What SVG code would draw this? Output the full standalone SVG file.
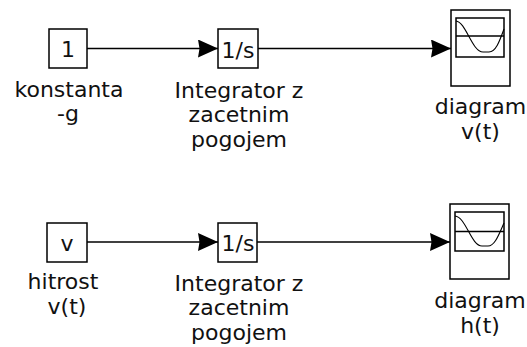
<svg xmlns="http://www.w3.org/2000/svg" width="527" height="347" viewBox="0 0 527 347">
<style>
.blk{fill:#fff;stroke:#000;stroke-width:1.5}
.ln{fill:none;stroke:#000;stroke-width:1.5}
.crv{fill:none;stroke:#000;stroke-width:1.1}
.t{font-family:"DejaVu Sans",sans-serif;font-size:22px;fill:#111;text-anchor:middle}
</style>
<defs>
<marker id="ah" markerWidth="20" markerHeight="18" refX="20" refY="9" orient="auto" markerUnits="userSpaceOnUse">
<path d="M0,0 L20,9 L0,18 L1.5,9 Z" fill="#000"/>
</marker>
</defs>
<rect width="527" height="347" fill="#fff"/>
<g id="connectors">
<line class="ln" x1="87" y1="48.5" x2="218" y2="48.5" marker-end="url(#ah)"/>
<line class="ln" x1="258" y1="48.5" x2="451" y2="48.5" marker-end="url(#ah)"/>
<line class="ln" x1="87" y1="242" x2="218" y2="242" marker-end="url(#ah)"/>
<line class="ln" x1="257" y1="242" x2="450" y2="242" marker-end="url(#ah)"/>
</g>
<g id="konstanta">
<rect class="blk" x="49" y="29" width="38" height="39"/>
<text class="t" x="68" y="57">1</text>
<text class="t" x="69" y="96.5">konstanta</text>
<text class="t" x="68" y="121">-g</text>
</g>
<g id="integrator1">
<rect class="blk" x="218" y="29" width="40" height="39"/>
<text class="t" x="238" y="58">1/s</text>
<text class="t" x="239" y="97.5">Integrator z</text>
<text class="t" x="239" y="122">zacetnim</text>
<text class="t" x="239" y="147">pogojem</text>
</g>
<g id="scope_v">
<rect class="blk" x="451" y="10" width="59" height="76"/>
<rect class="blk" x="456" y="18" width="48" height="39"/>
<line class="ln" x1="456" y1="36" x2="504" y2="36" stroke-width="1.2"/>
<path class="crv" d="M456,21 C466,22 472,52 483,52 L489,52 C496,52 500,40 504,29"/>
<text class="t" x="480.5" y="114">diagram</text>
<text class="t" x="480.5" y="139">v(t)</text>
</g>
<g id="hitrost">
<rect class="blk" x="47" y="223" width="40" height="39"/>
<text class="t" x="67" y="251">v</text>
<text class="t" x="63" y="289">hitrost</text>
<text class="t" x="67" y="314">v(t)</text>
</g>
<g id="integrator2">
<rect class="blk" x="218" y="223" width="39" height="39"/>
<text class="t" x="238" y="251">1/s</text>
<text class="t" x="239" y="290.5">Integrator z</text>
<text class="t" x="239" y="315">zacetnim</text>
<text class="t" x="239" y="340">pogojem</text>
</g>
<g id="scope_h">
<rect class="blk" x="450" y="204" width="59" height="75"/>
<rect class="blk" x="455" y="212" width="49" height="39"/>
<line class="ln" x1="455" y1="231.5" x2="504" y2="231.5" stroke-width="1.2"/>
<path class="crv" d="M455,216 C466,217 471,246 482,246 L488,246 C495,246 499,234 504,223"/>
<text class="t" x="480" y="308">diagram</text>
<text class="t" x="480" y="333">h(t)</text>
</g>
</svg>
